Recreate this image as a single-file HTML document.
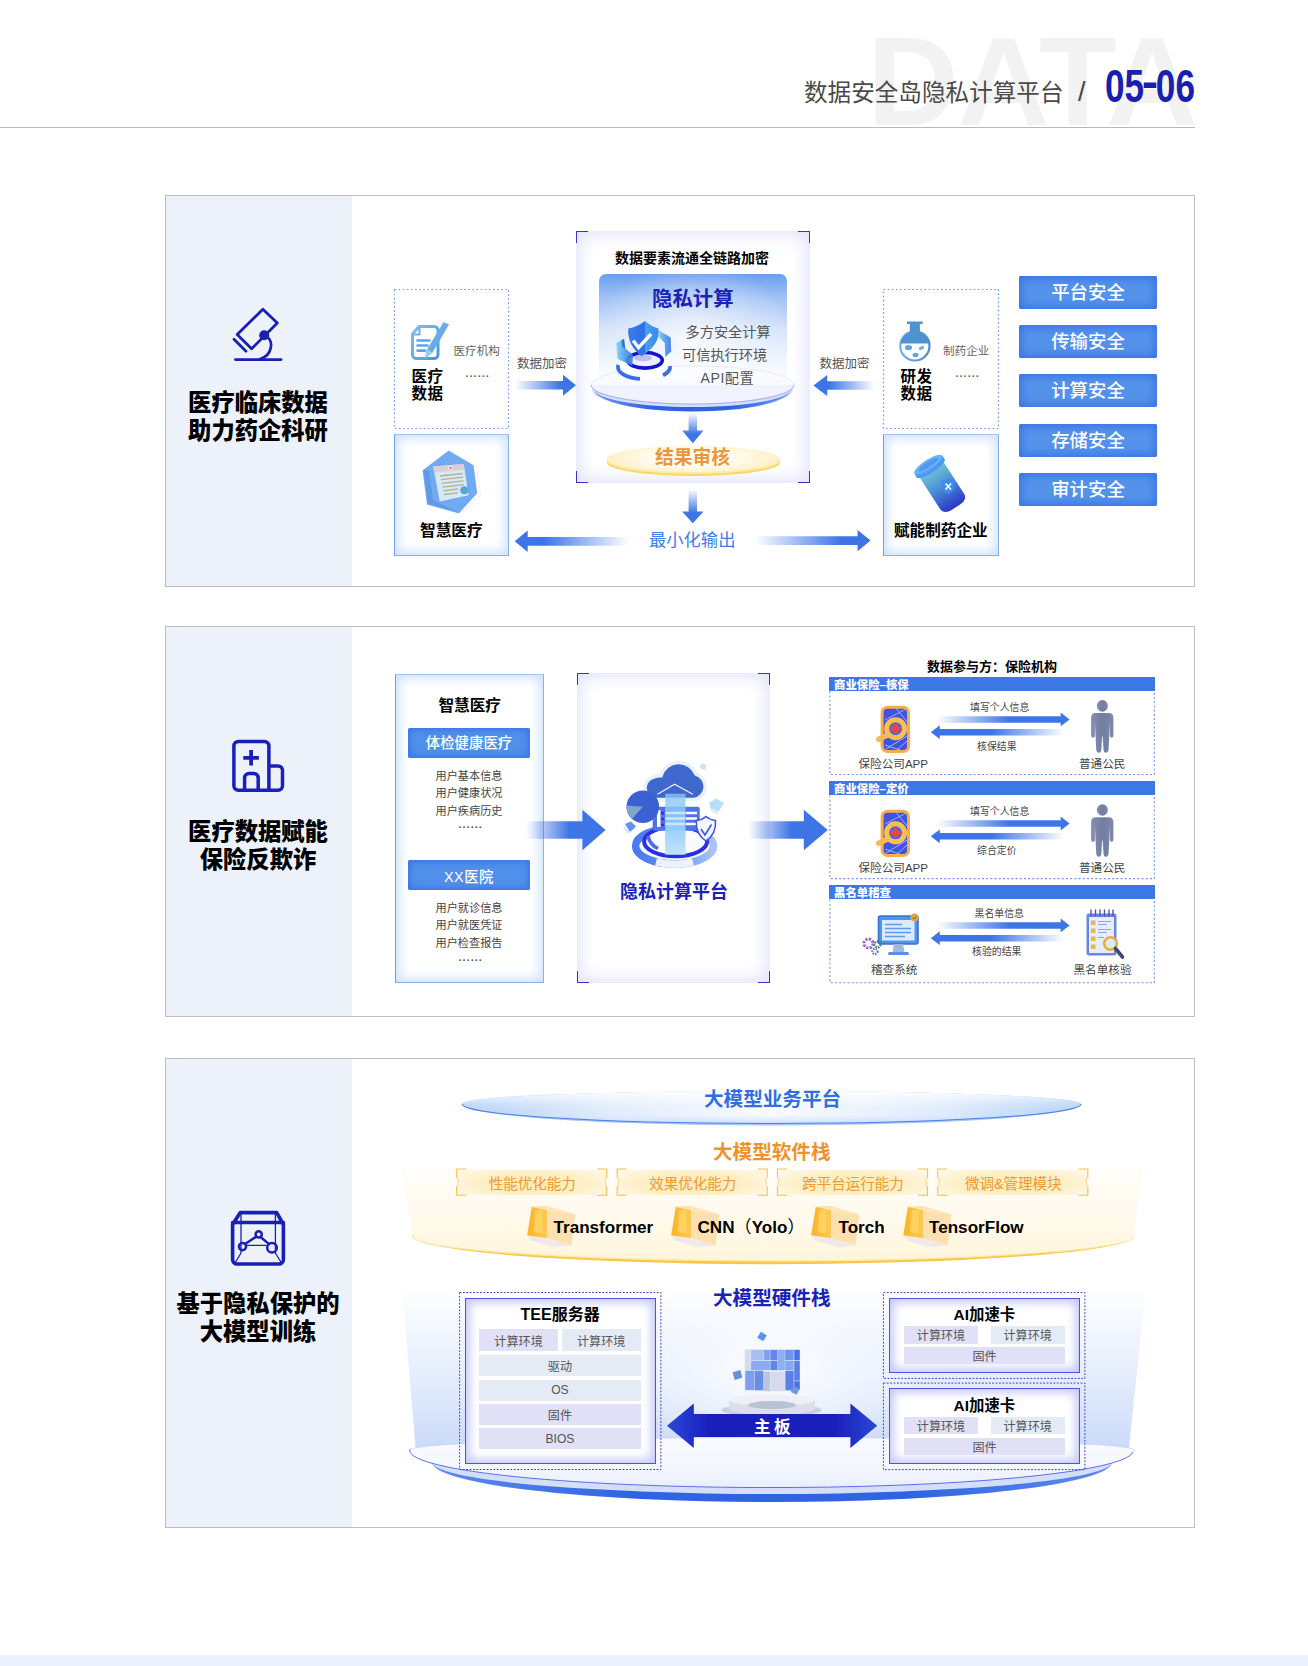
<!DOCTYPE html>
<html lang="zh-CN">
<head>
<meta charset="utf-8">
<title>数据安全岛隐私计算平台</title>
<style>
*{margin:0;padding:0;box-sizing:border-box}
html,body{width:1308px;height:1666px;background:#fff;overflow:hidden}
body{font-family:"Liberation Sans","Noto Sans CJK SC",sans-serif;color:#000;position:relative}
.a{position:absolute}
.t{position:absolute;white-space:nowrap;line-height:1}
.b{font-weight:700}
.panel{position:absolute;left:165px;width:1030px;border:1px solid #bebebe;background:#fff}
.side{position:absolute;left:0;top:0;bottom:0;width:186px;background:#edf2fa}
.stitle{position:absolute;left:0;width:186px;text-align:center;font-size:23.3px;font-weight:900;line-height:28.3px;color:#000;white-space:nowrap}
svg{position:absolute;overflow:visible}
.dot{position:absolute}
.glow{position:absolute;border:1px solid #7aa8f0;border-color:#a2c4f6 #86b0f3 #86b0f3 #6f9df0;background:#fff;box-shadow:inset 0 0 11px 3px #c9e1fc}
.btn{position:absolute;left:1019px;width:138px;height:33px;background:#5492ea;box-shadow:inset 0 0 9px 2px #3870e6;color:#fff;font-size:18.4px;font-weight:500;text-align:center;line-height:34.5px;border-radius:2px}
.bar{position:absolute;width:122px;height:29.5px;border-radius:2px;background:#5090ea;box-shadow:inset 0 0 6px 2px #3a72e6;color:#fff;font-size:14.4px;font-weight:500;text-align:center;line-height:31px;white-space:nowrap}
.lst{position:absolute;width:122px;text-align:center;font-size:11.15px;color:#444;line-height:17.5px;white-space:nowrap}
.hd{position:absolute;left:829.4px;width:325.4px;height:14.6px;background:#3d78e6;color:#fff;font-size:11.4px;font-weight:900;line-height:16px;padding-left:4.6px;white-space:nowrap}
.s9{font-size:9.9px;color:#444}
.s11{font-size:11.6px;color:#444}
.tag{position:absolute;top:1169.5px;width:148px;margin-left:1.5px;height:25.5px;background:radial-gradient(ellipse 62% 80% at 50% 55%,#fdebb6 0%,#fdefc4 55%,#fff8e8 100%);line-height:29.5px;text-align:center;font-size:14.5px;padding-left:1px;font-weight:400;color:#ee9a30;white-space:nowrap}
.fw{font-size:17.1px;color:#000}
.ibox{position:absolute;background:#fff;border:1.8px solid #4a55dc;box-shadow:inset 0 0 10px 3.5px #c3c6f7}
.cell{position:absolute;font-size:12.1px;color:#555;text-align:center;display:flex;align-items:center;justify-content:center;white-space:nowrap}
.c1{background:#e0e0f6}.c2{background:#e4ebf5}
</style>
</head>
<body>
<!-- HEADER -->
<div class="t b" style="left:867px;top:18px;font-size:127px;color:#f2f2f2;letter-spacing:-1px;height:109px;overflow:hidden;line-height:127px">DATA</div>
<div class="a" style="left:0;top:127px;width:1195px;height:1px;background:#b9b9b9"></div>
<div class="t" style="left:804px;top:82px;font-size:23.6px;color:#4a4a4a;font-weight:400">数据安全岛隐私计算平台</div>
<div class="t" style="left:1078px;top:79px;font-size:27px;color:#444;font-weight:400">/</div>
<div class="t b" id="pgno" style="left:1105px;top:63px;font-size:46px;color:#1a1fae;transform:scaleX(.765);transform-origin:0 0">05<span style="position:relative;top:-5.500px;display:inline-block;transform:scaleX(1.4)">-</span>06</div>

<!-- PANEL FRAMES -->
<div class="panel" id="p1" style="top:195px;height:392px"><div class="side"></div></div>
<div class="panel" id="p2" style="top:626px;height:391px"><div class="side"></div></div>
<div class="panel" id="p3" style="top:1058px;height:470px"><div class="side"></div></div>

<!-- footer strip -->
<div class="a" style="left:0;top:1654.6px;width:1308px;height:12px;background:#eaf0fc"></div>

<!--P1-->
<svg style="left:0;top:0" width="1308" height="1666" viewBox="0 0 1308 1666">
<defs>
<linearGradient id="gR" x1="0" x2="1" y1="0" y2="0"><stop offset="0" stop-color="#3d74e6" stop-opacity="0"/><stop offset=".75" stop-color="#3d74e6"/><stop offset="1" stop-color="#3d74e6"/></linearGradient>
<linearGradient id="gL" x1="1" x2="0" y1="0" y2="0"><stop offset="0" stop-color="#3d74e6" stop-opacity="0"/><stop offset=".75" stop-color="#3d74e6"/><stop offset="1" stop-color="#3d74e6"/></linearGradient>
<linearGradient id="gD" x1="0" x2="0" y1="0" y2="1"><stop offset="0" stop-color="#3d74e6" stop-opacity="0"/><stop offset=".7" stop-color="#3d74e6"/><stop offset="1" stop-color="#3d74e6"/></linearGradient>
</defs>
<!-- microscope icon -->
<g fill="none" stroke="#1a1fb5" stroke-width="2.8" stroke-linecap="round" stroke-linejoin="round">
<path d="M262.9 309.3 L277.3 323 L251.6 348.8 L237.2 334.4 Z"/>
<path d="M234 339.2 L246 351.2"/>
<path d="M235.5 359.6 H281"/>
<path d="M267 337 C274 341 272 356 260 359"/>
</g>
<circle cx="264.2" cy="335.2" r="5" fill="#1a1fb5"/>
</svg>

<div class="glow" style="left:394px;top:434px;width:115px;height:122px"></div>
<div class="glow" style="left:883px;top:434px;width:116px;height:122px"></div>
<svg style="left:0;top:0" width="1308" height="1666" viewBox="0 0 1308 1666">
<defs>
<linearGradient id="docg" x1="0" x2="1" y1="0" y2="1"><stop offset="0" stop-color="#7fc0f0"/><stop offset="1" stop-color="#4c96dc"/></linearGradient>
<linearGradient id="btl" x1="0" x2="0" y1="0" y2="1"><stop offset="0" stop-color="#6fc4d2"/><stop offset=".45" stop-color="#4a8fd6"/><stop offset="1" stop-color="#2a36c4"/></linearGradient>
<linearGradient id="flk" x1="0" x2="1" y1="0" y2="0"><stop offset="0" stop-color="#6fb2ea"/><stop offset="1" stop-color="#4a8acc"/></linearGradient>
</defs>
<g fill="none" stroke="#6f98ea" stroke-width="1.2" stroke-dasharray="1.6 2.5">
<rect x="394.5" y="289.5" width="114" height="139"/>
<rect x="883.5" y="289.5" width="115" height="139"/>
</g>
<!-- doc + pen -->
<g>
<path d="M419 326.500 H434 a4 4 0 0 1 4 4 V354.500 a4 4 0 0 1 -4 4 H416.500 a4 4 0 0 1 -4 -4 V334 Z" fill="#fff" stroke="url(#docg)" stroke-width="3"/>
<path d="M412.500 334.500 H419.500 V327" fill="none" stroke="#6ab2ec" stroke-width="2"/>
<path d="M417.500 340.500 H429.500 M417.500 345.500 H427.500 M417.500 350.600 H425" stroke="#5aa5e6" stroke-width="2.600" stroke-linecap="round"/>
<path d="M443.500 322 L449 324.500 L432.500 352.500 L424.800 358.800 L427 349.500 Z" fill="url(#docg)"/>
<path d="M427 349.500 L432.500 352.500 L424.800 358.800 Z" fill="#8fd0f8"/>
</g>
<!-- hexagon doc -->
<g>
<path d="M451.100 451.200 L476.800 467.700 L480.500 495.200 L462.800 512.300 L448 500 Z" fill="#fff" stroke="#e8eefa" stroke-width="1"/>
<path d="M448.700 451.800 L472.600 465.900 L476.200 492.800 L458.500 512.300 L427.900 503.800 L423.600 470.700 Z" fill="#70aaf1" stroke="#70aaf1" stroke-width="2" stroke-linejoin="round"/>
<path d="M423.600 470.700 L427.900 503.800 L458.500 512.300 L433 500 L429 470 Z" fill="#5b92e6" opacity=".7"/>
<path d="M433.100 466.500 L463.700 464 L468.600 495.200 L439.800 501.600 Z" fill="#d6e9f9"/>
<path d="M433.100 466.500 L463.700 464 L464.600 469.800 L434.300 472.600 Z" fill="#dccdd2"/>
<circle cx="450.500" cy="467.800" r="2.300" fill="#f4f0f4"/><circle cx="450.500" cy="467.800" r="1.100" fill="#e45a6a"/>
<path d="M440 476 L462.500 473.500 M441 479.700 L463 477.200 M441.700 483.400 L463.500 480.900 M442.500 487.100 L464 484.600 M443.300 490.800 L458 489 M444 494.500 L458 492.800" stroke="#b7b08c" stroke-width="1.300"/>
<circle cx="464.300" cy="490.300" r="4" fill="#5b9ff0"/>
<path d="M462.300 490.300 L463.800 491.800 L466.500 488.800" stroke="#4ac070" stroke-width="1.100" fill="none"/>
</g>
<!-- flask -->
<g>
<circle cx="914.900" cy="345.900" r="14.600" fill="#fff" stroke="url(#flk)" stroke-width="2.200"/>
<path d="M900.600 343.500 A14.600 14.600 0 0 1 909.800 332.300 V324 H907 V321.400 H922.700 V324 H919.900 V332.300 A14.600 14.600 0 0 1 929.200 343.500 Z" fill="#4e92d2"/>
<ellipse cx="908.500" cy="347.500" rx="3.600" ry="2.600" fill="#5fa4e4"/><ellipse cx="921.500" cy="348" rx="2.800" ry="1.700" fill="#6aaee8" transform="rotate(-20 921.500 348)"/><ellipse cx="915.500" cy="355" rx="3" ry="2.200" fill="#5fa4e4"/>
</g>
<!-- bottle -->
<g transform="translate(4.5 2.5) rotate(-33 938 484) translate(938 484) scale(.95) translate(-938 -484)">
<path d="M923 462 H953 V503 a9 7 0 0 1 -9 7 H932 a9 7 0 0 1 -9 -7 Z" fill="url(#btl)"/>
<ellipse cx="938" cy="461" rx="17.500" ry="5" fill="#4f9af0"/>
<rect x="920.500" y="456.500" width="35" height="5" fill="#4f9af0"/>
<ellipse cx="938" cy="456.500" rx="17.500" ry="5" fill="#6ab4f6"/>
<ellipse cx="938" cy="456.500" rx="12.500" ry="3" fill="#4f9af0"/>
</g>
<path d="M948.300 478.500 L955 481 Q955.500 490.500 948.300 494.500 Q941 490.500 941.600 481 Z" fill="#3a8cf0"/>
<path d="M945.500 483.500 L951 489.500 M951 483.500 L945.500 489.500" stroke="#fff" stroke-width="1.800"/>
</svg>
<!-- left boxes -->
<div class="t b" style="left:411.500px;top:368px;font-size:15.500px;line-height:17px;letter-spacing:.6px">医疗<br>数据</div>
<div class="t" style="left:453.500px;top:345px;font-size:11.600px;color:#666">医疗机构</div>
<div class="t" style="left:465.500px;top:368px;font-size:11px;color:#666;letter-spacing:1px;font-weight:700">......</div>
<div class="t" style="left:517px;top:358px;font-size:12.500px;color:#555">数据加密</div>
<div class="t b" style="left:420px;top:523px;font-size:15.700px">智慧医疗</div>
<!-- centre box -->
<div class="a" style="left:576px;top:231px;width:234px;height:252px;background:#fff;box-shadow:inset 0 0 18px 3px #dfe0fb"></div>
<div class="a" style="left:576px;top:231px;width:12px;height:12px;border-left:1.3px solid #3535c6;border-top:1.3px solid #3535c6"></div>
<div class="a" style="left:798px;top:231px;width:12px;height:12px;border-right:1.3px solid #3535c6;border-top:1.3px solid #3535c6"></div>
<div class="a" style="left:576px;top:471px;width:12px;height:12px;border-left:1.3px solid #3535c6;border-bottom:1.3px solid #3535c6"></div>
<div class="a" style="left:798px;top:471px;width:12px;height:12px;border-right:1.3px solid #3535c6;border-bottom:1.3px solid #3535c6"></div>
<div class="t b" style="left:615px;top:250.5px;font-size:14px">数据要素流通全链路加密</div>
<div class="a" style="left:598.5px;top:274px;width:188.5px;height:112px;border-radius:7px 7px 0 0;background:radial-gradient(ellipse 55% 70% at 50% 60%,rgba(255,255,255,.75) 0%,rgba(255,255,255,0) 100%),linear-gradient(180deg,#6a9fee 0%,#a3c3f5 22%,#d3e3fa 50%,#f1f6fe 80%,#ffffff 100%)"></div>
<svg style="left:0;top:0" width="1308" height="1666" viewBox="0 0 1308 1666">
<defs>
<linearGradient id="rim1" x1="0" x2="0" y1="0" y2="1"><stop offset="0" stop-color="#dfe6fb"/><stop offset=".6" stop-color="#c3d2f8"/><stop offset=".8" stop-color="#6b93ee"/><stop offset="1" stop-color="#2a5fe0"/></linearGradient>
<linearGradient id="brimh1" x1="0" x2="1" y1="0" y2="0"><stop offset="0" stop-color="#6f98f0"/><stop offset=".3" stop-color="#2f63e2"/><stop offset=".7" stop-color="#2f63e2"/><stop offset="1" stop-color="#6f98f0"/></linearGradient>
<linearGradient id="top1" x1="0" x2="0" y1="0" y2="1"><stop offset="0" stop-color="#ffffff" stop-opacity=".0"/><stop offset=".4" stop-color="#f8f9fe" stop-opacity=".75"/><stop offset="1" stop-color="#f0f2fd"/></linearGradient>
<linearGradient id="sh1" x1="0" x2="1" y1="0" y2="0"><stop offset="0" stop-color="#3a7bea"/><stop offset=".55" stop-color="#2f6fe8"/><stop offset=".56" stop-color="#4da0f2"/><stop offset="1" stop-color="#3b86ee"/></linearGradient>
<linearGradient id="gl1" x1="0" x2="1" y1="0" y2="0"><stop offset="0" stop-color="#7fd6f8"/><stop offset=".5" stop-color="#4a9bee"/><stop offset="1" stop-color="#3a78e4"/></linearGradient>
</defs>
<path d="M592 389 A100.500 22.500 0 0 0 793 389 L793 385 H592 Z" fill="#d5dffa"/>
<path d="M594 389 A98.500 22.500 0 0 0 791 389 A98.500 18 0 0 1 594 389 Z" fill="url(#brimh1)"/>
<ellipse cx="692.500" cy="385" rx="101.500" ry="19" fill="url(#top1)"/>
<path d="M591 385 A101.500 19 0 0 0 794 385" fill="none" stroke="#8d9cf0" stroke-width=".8"/>
<path d="M591 385 A101.500 19 0 0 1 794 385" fill="none" stroke="#d9defa" stroke-width=".6"/>
<!-- shield icon -->
<ellipse cx="644.100" cy="367" rx="26" ry="12" fill="#fff"/>
<path d="M618.300 365 A26 12 0 0 0 640 378.900" fill="none" stroke="#3d6be8" stroke-width="3.800"/>
<path d="M663 375.200 A26 12 0 0 0 670 366" fill="none" stroke="#3d6be8" stroke-width="3.800"/>
<ellipse cx="645" cy="360.300" rx="17.300" ry="7.800" fill="#eeeefc" stroke="#1414cf" stroke-width="3.600"/>
<ellipse cx="643" cy="358" rx="9" ry="3.200" fill="#9a96e8" opacity=".55"/>
<path d="M616.200 343.200 L624 338.600 L625.300 348.600 L633.100 355 L632.200 366 L617.500 358.700 Z" fill="url(#gl1)" opacity=".9"/>
<path d="M621.500 340.500 L624 339 L625.300 348.600 L622.500 347 Z" fill="#2a4a9a" opacity=".6"/>
<path d="M658.400 330.300 L670.700 337.600 L671.200 351.400 L665.200 356.900 L664.800 343.100 L658.400 336.700 Z" fill="url(#gl1)" opacity=".9"/>
<path d="M645 321.100 Q651 326.500 658.300 328.500 Q661 344 641.400 356.200 Q627 345 628.300 328.600 Q637.500 327 645 321.100 Z" fill="url(#sh1)"/>
<path d="M633.100 340.400 L638.600 347.700 L651 334" fill="none" stroke="#fff" stroke-width="3.400" stroke-linejoin="miter"/>
</svg>
<div class="t b" style="left:652px;top:288.500px;font-size:20.400px;color:#1a22b8">隐私计算</div>
<div class="t" style="left:685.500px;top:324.500px;font-size:14.200px;color:#555">多方安全计算</div>
<div class="t" style="left:682px;top:347.500px;font-size:14.200px;color:#555">可信执行环境</div>
<div class="t" style="left:700.500px;top:370.500px;font-size:14.200px;color:#555;letter-spacing:.5px">API配置</div>
<!-- result ellipse -->
<div class="a" style="left:606.500px;top:448.500px;width:173px;height:27px;border-radius:50%;background:#fbd768"></div>
<div class="a" style="left:606.500px;top:447px;width:173px;height:27px;border-radius:50%;background:#fdeaa8"></div>
<div class="a" style="left:606.500px;top:445.500px;width:173px;height:26.500px;border-radius:50%;background:radial-gradient(ellipse 55% 70% at 50% 45%,#ffffff 0%,#fffaea 50%,#fdefbf 100%)"></div>
<div class="t b" style="left:655px;top:448.800px;font-size:18.800px;color:#ea963a">结果审核</div>
<div class="t" style="left:649px;top:531.800px;font-size:17.300px;color:#3f7de8">最小化输出</div>
<!-- right boxes -->
<div class="t b" style="left:900.500px;top:368px;font-size:15.500px;line-height:17px;letter-spacing:.6px">研发<br>数据</div>
<div class="t" style="left:943px;top:345px;font-size:11.600px;color:#666">制药企业</div>
<div class="t" style="left:955.500px;top:368px;font-size:11px;color:#666;letter-spacing:1px;font-weight:700">......</div>
<div class="t" style="left:819.500px;top:357.500px;font-size:12.500px;color:#555">数据加密</div>
<div class="t b" style="left:894px;top:523px;font-size:15.600px">赋能制药企业</div>
<!-- buttons -->
<div class="btn" style="top:276px">平台安全</div>
<div class="btn" style="top:325px">传输安全</div>
<div class="btn" style="top:374px">计算安全</div>
<div class="btn" style="top:423.5px">存储安全</div>
<div class="btn" style="top:472.5px">审计安全</div>
<svg style="left:0;top:0" width="1308" height="1666" viewBox="0 0 1308 1666">
<polygon fill="url(#gR)" points="515,380.95 563,380.95 563,374.7 576,385.2 563,395.7 563,389.45 515,389.45"/>
<polygon fill="url(#gL)" points="874.5,381.25 827.2,381.25 827.2,375.0 813.4,385.5 827.2,396.0 827.2,389.75 874.5,389.75"/>
<polygon fill="url(#gL)" points="629,536.9 527.7,536.9 527.7,530.5999999999999 514.7,541.3 527.7,552.0 527.7,545.6999999999999 629,545.6999999999999"/>
<polygon fill="url(#gR)" points="755,536.2 857.6,536.2 857.6,529.9 870.6,540.6 857.6,551.3000000000001 857.6,545.0 755,545.0"/>
<polygon fill="url(#gD)" points="688.5999999999999,412.8 688.5999999999999,430.4 682.0999999999999,430.4 692.8,443.2 703.5,430.4 697.0,430.4 697.0,412.8"/>
<polygon fill="url(#gD)" points="688.5999999999999,489.4 688.5999999999999,511.5 682.0999999999999,511.5 692.8,523.2 703.5,511.5 697.0,511.5 697.0,489.4"/>
</svg>
<div class="stitle" style="left:165px;top:388.5px">医疗临床数据<br>助力药企科研</div>
<!--P2-->
<svg style="left:0;top:0" width="1308" height="1666" viewBox="0 0 1308 1666">
<g fill="none" stroke="#1a1fb5" stroke-width="3.5" stroke-linejoin="round" stroke-linecap="butt">
<path d="M238.400 790.300 a4.500 4.500 0 0 1 -4.500 -4.500 V746 a4.500 4.500 0 0 1 4.500 -4.500 H264.400 a4.500 4.500 0 0 1 4.500 4.500 V790.300 M268.900 765.900 H278 a4.500 4.500 0 0 1 4.500 4.500 V785.800 a4.500 4.500 0 0 1 -4.500 4.500 H238.400"/>
<path d="M244.600 790 V778 a4.500 4.500 0 0 1 4.500 -4.500 H253.700 a4.500 4.500 0 0 1 4.500 4.500 V790"/>
<path stroke-width="3.8" d="M243.300 757.800 H258.900 M251.100 750 V765.600"/>
</g>
</svg>

<div class="glow" style="left:395px;top:673.500px;width:149px;height:309.500px;box-shadow:inset 0 0 12px 3px #c9e1fc"></div>
<div class="t b" style="left:438.500px;top:698px;font-size:15.600px">智慧医疗</div>
<div class="bar" style="left:408px;top:728px">体检健康医疗</div>
<div class="lst" style="left:408px;top:767.500px">用户基本信息<br>用户健康状况<br>用户疾病历史</div>
<div class="t" style="left:458.500px;top:818.500px;font-size:11px;color:#555;letter-spacing:1px;font-weight:700">......</div>
<div class="bar" style="left:408px;top:860px;letter-spacing:.5px;line-height:34px">XX医院</div>
<div class="lst" style="left:408px;top:899.500px">用户就诊信息<br>用户就医凭证<br>用户检查报告</div>
<div class="t" style="left:458.500px;top:952px;font-size:11px;color:#555;letter-spacing:1px;font-weight:700">......</div>
<div class="a" style="left:577px;top:673px;width:193px;height:310px;background:#fff;box-shadow:inset 0 0 18px 3px #dfe0fb"></div>
<div class="a" style="left:577px;top:673px;width:12px;height:12px;border-left:1.3px solid #3535c6;border-top:1.3px solid #3535c6"></div>
<div class="a" style="left:758px;top:673px;width:12px;height:12px;border-right:1.3px solid #3535c6;border-top:1.3px solid #3535c6"></div>
<div class="a" style="left:577px;top:971px;width:12px;height:12px;border-left:1.3px solid #3535c6;border-bottom:1.3px solid #3535c6"></div>
<div class="a" style="left:758px;top:971px;width:12px;height:12px;border-right:1.3px solid #3535c6;border-bottom:1.3px solid #3535c6"></div>
<svg style="left:0;top:0" width="1308" height="1666" viewBox="0 0 1308 1666">
<defs>
<linearGradient id="cring" x1="0" x2="1" y1="0" y2="0"><stop offset="0" stop-color="#4a7af0"/><stop offset=".45" stop-color="#5f8cf2"/><stop offset="1" stop-color="#a9c4f7"/></linearGradient>
<linearGradient id="carr" x1="0" x2="0" y1="0" y2="1"><stop offset="0" stop-color="#8cc8f6" stop-opacity=".75"/><stop offset=".5" stop-color="#8fccf8" stop-opacity=".95"/><stop offset="1" stop-color="#bfe2fb" stop-opacity=".95"/></linearGradient>
</defs>
<ellipse cx="674.600" cy="846" rx="39" ry="18" fill="#f4f6fe" stroke="url(#cring)" stroke-width="7.500"/>
<path d="M693 861.900 A39 18 0 0 1 656 861.900" stroke="#eef2fd" stroke-width="7.600" fill="none"/>
<ellipse cx="675.600" cy="841.500" rx="31.500" ry="14.800" fill="#fbfbff" stroke="#2b2fe2" stroke-width="4"/>
<path d="M648 836 Q650 845 658 848.500" stroke="#4a6cf0" stroke-width="3.500" fill="none"/>
<!-- server -->
<rect x="652.700" y="806.700" width="47" height="24" rx="2" fill="#4d72ea"/>
<rect x="657" y="810" width="3.500" height="17" fill="#fff"/>
<path d="M686 813 H697 M686 818.500 H697 M686 824 H697" stroke="#fff" stroke-width="2.600"/>
<circle cx="662.500" cy="813.200" r="1.600" fill="#3a2fe0"/><circle cx="662.500" cy="819" r="1.600" fill="#3a2fe0"/><circle cx="662.500" cy="824.800" r="1.600" fill="#3a2fe0"/>
<!-- cloud -->
<path d="M656 799.500 a11.500 11.500 0 0 1 -1.500 -22.800 a14 14 0 0 1 6.500 -1 a18.500 18.500 0 0 1 35 -1.500 a13 13 0 0 1 -2 25.300 Z" fill="#3f68cc" stroke="#eaf1fb" stroke-width="3.500"/>
<!-- pie -->
<circle cx="642.800" cy="806.700" r="16.300" fill="#3c60d4"/>
<path d="M642.800 806.700 L626.600 805.500 A16.300 16.300 0 0 0 632 818.800 Z" fill="#7da6cc"/>
<!-- arrow -->
<rect x="665.200" y="793.700" width="20.300" height="61" fill="url(#carr)"/>
<path d="M665.200 813 h20.300 M665.200 818.500 h20.300 M665.200 824 h20.300" stroke="#d6ecfc" stroke-width="2.400" opacity=".85"/>
<path d="M657.500 794.300 L674.600 784.300 L692.800 794.300" fill="none" stroke="#e8f2fc" stroke-width="1.300"/>
<!-- shield -->
<path d="M705.900 816.500 Q710 820 715.500 820.500 Q716.500 834 705.900 841 Q695.500 834 696.300 820.500 Q702 820 705.900 816.500 Z" fill="#f4f7fe" stroke="#3d55e6" stroke-width="1.500"/>
<path d="M701 829 L705 835 L711.500 824.500" fill="none" stroke="#3d55e6" stroke-width="1.600"/>
<!-- cubes -->
<path d="M709 803 L716 798.500 L724 803 L718.500 812 L710.500 808.500 Z" fill="#b5e1f6"/><path d="M710.500 808.500 L718.500 812 L717.500 815 L711 811.500 Z" fill="#e3eef8"/>
<rect x="700.500" y="764" width="5.500" height="5" fill="#c6e4f6" transform="rotate(25 703 766.500)"/>
<path d="M625 824 L631 821.500 L636 826.500 L630 832 Z" fill="#5b93ee"/><path d="M624 826 L630 832 L629 834.500 L623.500 829 Z" fill="#d9e6f8"/>
</svg>
<div class="t b" style="left:620px;top:883px;font-size:18px;color:#1a22b8">隐私计算平台</div>
<div class="t b" style="left:927px;top:659.800px;font-size:13px">数据参与方：保险机构</div>
<div class="hd" style="top:676.600px">商业保险–核保</div>
<div class="hd" style="top:780.700px">商业保险–定价</div>
<div class="hd" style="top:884.800px">黑名单稽查</div>
<div class="t s9" style="left:970px;top:702.500px">填写个人信息</div>
<div class="t s9" style="left:977px;top:741.500px">核保结果</div>
<div class="t s11" style="left:858.500px;top:757.800px">保险公司APP</div>
<div class="t s11" style="left:1079px;top:757.800px">普通公民</div>
<div class="t s9" style="left:970px;top:806.600px">填写个人信息</div>
<div class="t s9" style="left:977px;top:845.600px">综合定价</div>
<div class="t s11" style="left:858.500px;top:861.900px">保险公司APP</div>
<div class="t s11" style="left:1079px;top:861.900px">普通公民</div>
<div class="t s9" style="left:974.500px;top:909px">黑名单信息</div>
<div class="t s9" style="left:972px;top:947px">核验的结果</div>
<div class="t s11" style="left:871px;top:964.300px">稽查系统</div>
<div class="t s11" style="left:1073.500px;top:964.300px">黑名单核验</div>
<svg style="left:0;top:0" width="1308" height="1666" viewBox="0 0 1308 1666">
<defs><linearGradient id="gR2" x1="0" x2="1" y1="0" y2="0"><stop offset="0" stop-color="#3d74e6" stop-opacity="0"/><stop offset=".55" stop-color="#3d74e6"/><stop offset="1" stop-color="#3d74e6"/></linearGradient><linearGradient id="gL2" x1="1" x2="0" y1="0" y2="0"><stop offset="0" stop-color="#3d74e6" stop-opacity="0"/><stop offset=".55" stop-color="#3d74e6"/><stop offset="1" stop-color="#3d74e6"/></linearGradient><linearGradient id="pers" x1="0" x2="1" y1="0" y2="0"><stop offset="0" stop-color="#8690b2"/><stop offset=".5" stop-color="#727da2"/><stop offset="1" stop-color="#7f89ac"/></linearGradient></defs>
<polygon fill="url(#gR2)" points="526,821.2 582.4,821.2 582.4,809.8 605.6,830 582.4,850.2 582.4,838.8 526,838.8"/>
<polygon fill="url(#gR2)" points="748,821.2 803.8,821.2 803.8,809.8 827.8,830 803.8,850.2 803.8,838.8 748,838.8"/>
<g fill="none" stroke="#6f98ea" stroke-width="1.1" stroke-dasharray="2.1 2.1"><path d="M829.9 691.3 V774.5 H1154.3 V691.3"/><path d="M829.9 795.4 V878.6 H1154.3 V795.4"/><path d="M829.9 899.5 V982.7 H1154.3 V899.5"/></g>
<polygon fill="url(#gR2)" points="936.4,716.15 1060.7,716.15 1060.7,712.5 1069.6,719.4 1060.7,726.3 1060.7,722.65 936.4,722.65"/>
<polygon fill="url(#gL2)" points="1064.5,728.95 939.8,728.95 939.8,725.3000000000001 930.8,732.2 939.8,739.1 939.8,735.45 1064.5,735.45"/>
<polygon fill="url(#gR2)" points="936.4,820.25 1060.7,820.25 1060.7,816.6 1069.6,823.5 1060.7,830.4 1060.7,826.75 936.4,826.75"/>
<polygon fill="url(#gL2)" points="1064.5,833.0500000000001 939.8,833.0500000000001 939.8,829.4000000000001 930.8,836.3000000000001 939.8,843.2 939.8,839.5500000000001 1064.5,839.5500000000001"/>
<polygon fill="url(#gR2)" points="936.4,922.15 1060.7,922.15 1060.7,918.5 1069.6,925.4 1060.7,932.3 1060.7,928.65 936.4,928.65"/>
<polygon fill="url(#gL2)" points="1064.5,934.95 939.8,934.95 939.8,931.3000000000001 930.8,938.2 939.8,945.1 939.8,941.45 1064.5,941.45"/>
<g transform="translate(0 0.0)" fill="url(#pers)"><ellipse cx="1102.400" cy="705.900" rx="5.500" ry="5.800"/><path d="M1095.600 713.100 H1108.900 Q1113.400 713.100 1113.400 718.300 V735.800 Q1113.200 737.700 1111.700 737.700 Q1110.100 737.700 1109.900 735.800 V722 L1108.600 749.500 Q1108 752.800 1105.900 752.800 Q1103.800 752.800 1103.500 749.500 L1102.700 736.500 H1102.100 L1101.300 749.500 Q1101 752.800 1098.900 752.800 Q1096.800 752.800 1096.200 749.500 L1094.900 722 V735.800 Q1094.700 737.700 1093.100 737.700 Q1091.500 737.700 1091.100 735.800 V718.300 Q1091.100 713.100 1095.600 713.100 Z"/></g>
<g transform="translate(0 104.1)" fill="url(#pers)"><ellipse cx="1102.400" cy="705.900" rx="5.500" ry="5.800"/><path d="M1095.600 713.100 H1108.900 Q1113.400 713.100 1113.400 718.300 V735.800 Q1113.200 737.700 1111.700 737.700 Q1110.100 737.700 1109.900 735.800 V722 L1108.600 749.500 Q1108 752.800 1105.900 752.800 Q1103.800 752.800 1103.500 749.500 L1102.700 736.500 H1102.100 L1101.300 749.500 Q1101 752.800 1098.900 752.800 Q1096.800 752.800 1096.200 749.500 L1094.900 722 V735.800 Q1094.700 737.700 1093.100 737.700 Q1091.500 737.700 1091.100 735.800 V718.300 Q1091.100 713.100 1095.600 713.100 Z"/></g>
<g transform="translate(0 0.0)"><rect x="882.100" y="707.200" width="26.400" height="44.300" rx="5.500" fill="#3f52e0" stroke="#f7ad4c" stroke-width="3"/>
<path d="M885 720 L906 709 M885 745 L900 750 M896 708 L907 722 M886 749 L907 736 M897 750 L907 741" stroke="#aebcf2" stroke-width=".9"/>
<path d="M887.500 735 L878.800 739.200" stroke="#f9b850" stroke-width="5.500" stroke-linecap="round"/>
<circle cx="895.600" cy="728.700" r="9" fill="#4766e6" stroke="#fbc050" stroke-width="5"/>
<path d="M895.600 723.700 V733.700 M890.600 728.700 H900.600" stroke="#e8463f" stroke-width="4.200"/></g>
<g transform="translate(0 104.1)"><rect x="882.100" y="707.200" width="26.400" height="44.300" rx="5.500" fill="#3f52e0" stroke="#f7ad4c" stroke-width="3"/>
<path d="M885 720 L906 709 M885 745 L900 750 M896 708 L907 722 M886 749 L907 736 M897 750 L907 741" stroke="#aebcf2" stroke-width=".9"/>
<path d="M887.500 735 L878.800 739.200" stroke="#f9b850" stroke-width="5.500" stroke-linecap="round"/>
<circle cx="895.600" cy="728.700" r="9" fill="#4766e6" stroke="#fbc050" stroke-width="5"/>
<path d="M895.600 723.700 V733.700 M890.600 728.700 H900.600" stroke="#e8463f" stroke-width="4.200"/></g>
<g><rect x="878.500" y="916" width="39.500" height="28" rx="2" fill="#4f94ee" stroke="#3a6fd8" stroke-width="1.600"/>
<rect x="882" y="920" width="32.500" height="20.500" fill="#dbeafc"/>
<path d="M885 924.500 H902 M885 928.500 H911 M885 932.500 H911 M885 936.500 H905" stroke="#5f9af0" stroke-width="1.500"/>
<path d="M894 944 H903 L904.500 952 H892.500 Z" fill="#9fb8e0"/><rect x="888" y="952" width="21" height="3" rx="1.500" fill="#5c8ee6"/>
<circle cx="914.500" cy="917.500" r="4" fill="#f2a03c"/><path d="M912.600 917.500 l1.500 1.500 l2.600 -2.800" stroke="#3aa860" stroke-width="1.200" fill="none"/>
<circle cx="868.500" cy="943.500" r="4.500" fill="none" stroke="#9a62d8" stroke-width="3" stroke-dasharray="2.200 1.300"/>
<circle cx="877.500" cy="944.500" r="3" fill="none" stroke="#3c8a56" stroke-width="2.400" stroke-dasharray="1.600 1"/>
<circle cx="875" cy="951.500" r="2.600" fill="none" stroke="#6a72d8" stroke-width="2.200" stroke-dasharray="1.500 1"/></g>
<g><rect x="1086.500" y="913.500" width="30" height="42" rx="2.500" fill="#6b86e0"/>
<rect x="1089" y="917" width="25" height="36" fill="#e4eefc"/>
<path d="M1091 910 v6 M1095.500 910 v6 M1100 910 v6 M1104.500 910 v6 M1109 910 v6 M1113 910 v6" stroke="#4a5aa8" stroke-width="1.400" stroke-linecap="round"/>
<rect x="1091" y="920.500" width="4.500" height="4.500" fill="#f2b63c"/><rect x="1091" y="928.500" width="4.500" height="4.500" fill="#f2b63c"/><rect x="1091" y="936.500" width="4.500" height="4.500" fill="#f2b63c"/><rect x="1091" y="944.500" width="4.500" height="4.500" fill="#f2b63c"/>
<path d="M1098 921.500 H1111 M1098 924.500 H1107 M1098 929.500 H1111 M1098 932.500 H1107 M1098 937.500 H1104" stroke="#7fa8ee" stroke-width="1.200"/>
<circle cx="1110.500" cy="943.500" r="6.300" fill="#d8ecfa" stroke="#f0a83c" stroke-width="2.600"/>
<path d="M1115.500 948.500 L1122.500 957" stroke="#3d4a78" stroke-width="3.600" stroke-linecap="round"/></g>
</svg>
<div class="stitle" style="left:165px;top:817.5px">医疗数据赋能<br>保险反欺诈</div>
<!--P3-->
<svg style="left:0;top:0" width="1308" height="1666" viewBox="0 0 1308 1666">
<g fill="none" stroke="#1a1fb5" stroke-linejoin="round" stroke-linecap="round">
<path stroke-width="3.6" d="M240.300 1212.600 H276.700 L283.400 1224.500 V1259.500 a4.500 4.500 0 0 1 -4.500 4.500 H237.100 a4.500 4.500 0 0 1 -4.500 -4.500 V1224.500 Z"/>
<path stroke-width="3.6" d="M232.600 1222.500 H283.400"/>
<path stroke-width="1.300" d="M241 1213 V1253 L235 1263 M275.400 1213 V1253 L281.500 1263 M247 1245.400 H266"/>
<path stroke-width="2.500" d="M245.500 1243.800 L256.300 1236.600 M260.800 1237.300 L268.500 1243.600"/>
<circle stroke-width="2.500" cx="242.500" cy="1246.600" r="3.600"/>
<circle stroke-width="2.500" cx="258.700" cy="1234.300" r="3.100"/>
<circle stroke-width="2.500" cx="272" cy="1247.800" r="4.800"/>
</g>
</svg>
<svg style="left:0;top:0" width="1308" height="1666" viewBox="0 0 1308 1666">
<defs>
<linearGradient id="yglow" x1="0" x2="0" y1="0" y2="1"><stop offset="0" stop-color="#fff3d4" stop-opacity="0"/><stop offset=".25" stop-color="#fff4d8" stop-opacity=".3"/><stop offset=".6" stop-color="#fff4d8" stop-opacity=".5"/><stop offset="1" stop-color="#fff1cc" stop-opacity=".75"/></linearGradient>
<linearGradient id="yside" x1="0" x2="1" y1="0" y2="0"><stop offset="0" stop-color="#ffeab8" stop-opacity=".35"/><stop offset=".1" stop-color="#fff" stop-opacity="0"/><stop offset=".9" stop-color="#fff" stop-opacity="0"/><stop offset="1" stop-color="#ffeab8" stop-opacity=".35"/></linearGradient>
<linearGradient id="bglow" x1="0" x2="0" y1="0" y2="1"><stop offset="0" stop-color="#dbe6fc" stop-opacity="0"/><stop offset=".35" stop-color="#dde8fc" stop-opacity=".6"/><stop offset=".75" stop-color="#cfddfa" stop-opacity="1"/><stop offset="1" stop-color="#bfd2f7" stop-opacity="1"/></linearGradient>
<radialGradient id="bcenter" cx=".5" cy=".45" r=".5"><stop offset="0" stop-color="#fff" stop-opacity=".85"/><stop offset="1" stop-color="#fff" stop-opacity="0"/></radialGradient>
<linearGradient id="tope" x1="0" x2="0" y1="0" y2="1"><stop offset="0" stop-color="#ffffff" stop-opacity=".9"/><stop offset=".35" stop-color="#ffffff" stop-opacity=".3"/><stop offset=".7" stop-color="#d5e4fb" stop-opacity="0"/><stop offset="1" stop-color="#b9d3f8" stop-opacity=".7"/></linearGradient>
<linearGradient id="topeh" x1="0" x2="1" y1="0" y2="0"><stop offset="0" stop-color="#b3d0f7"/><stop offset=".22" stop-color="#dfebfc"/><stop offset=".5" stop-color="#fafcff"/><stop offset=".78" stop-color="#dfebfc"/><stop offset="1" stop-color="#b3d0f7"/></linearGradient>
<linearGradient id="brim" x1="0" x2="0" y1="0" y2="1"><stop offset="0" stop-color="#d5e1fa"/><stop offset=".62" stop-color="#d0ddf9"/><stop offset=".8" stop-color="#9db8f3"/><stop offset=".9" stop-color="#4272e6"/><stop offset="1" stop-color="#2a5fe0"/></linearGradient>
<linearGradient id="brimh" x1="0" x2="1" y1="0" y2="0"><stop offset="0" stop-color="#5f8cee"/><stop offset=".3" stop-color="#2f63e2"/><stop offset=".7" stop-color="#2f63e2"/><stop offset="1" stop-color="#5f8cee"/></linearGradient>
<linearGradient id="bsurf" x1="0" x2="0" y1="0" y2="1"><stop offset="0" stop-color="#fbfcff" stop-opacity=".95"/><stop offset=".6" stop-color="#f4f7fe"/><stop offset="1" stop-color="#e9eefc"/></linearGradient>
<linearGradient id="cubeL" x1="0" x2="1" y1="0" y2="0"><stop offset="0" stop-color="#fbb228"/><stop offset="1" stop-color="#fccb52"/></linearGradient>
<linearGradient id="tagbg" x1="0" x2="1" y1="0" y2="0"><stop offset="0" stop-color="#fdefc8" stop-opacity=".3"/><stop offset=".2" stop-color="#fdefc8"/><stop offset=".8" stop-color="#fdefc8"/><stop offset="1" stop-color="#fdefc8" stop-opacity=".3"/></linearGradient>
<linearGradient id="dblarr" x1="0" x2="1" y1="0" y2="0"><stop offset="0" stop-color="#2a48d8"/><stop offset=".2" stop-color="#1a1fbc"/><stop offset=".8" stop-color="#1a1fbc"/><stop offset="1" stop-color="#2a48d8"/></linearGradient>
</defs>
<!-- blue cone + platform -->
<path d="M402 1288 H1146 L1128 1456 A361 37 0 0 1 416 1453 Z" fill="url(#bglow)"/>
<ellipse cx="772" cy="1385" rx="170" ry="75" fill="url(#bcenter)"/>
<path d="M432 1462 A340 40 0 0 0 1112 1462 Z" fill="#d3dff9"/>
<path d="M432 1462 A340 40 0 0 0 1112 1462 A340 32 0 0 1 432 1462 Z" fill="url(#brimh)"/>
<path d="M410 1449 A362 13 0 0 1 1133 1452 A361 37 0 0 1 410 1449 Z" fill="url(#bsurf)"/>
<path d="M1133 1452 A361 37 0 0 1 410 1449" fill="none" stroke="#5f6ee6" stroke-width="1"/>
<path d="M410 1449 A362 13 0 0 1 1133 1452" fill="none" stroke="#c3cdf6" stroke-width=".6"/>
<!-- yellow cone -->
<path d="M400 1160 H1143 L1134 1237 A361 26 0 0 1 412.500 1235 Z" fill="url(#yglow)"/>
<path d="M412.500 1235 A361 28.500 0 0 0 1134 1237 A361 25 0 0 1 412.500 1235 Z" fill="#f9c744"/>
<path d="M412.500 1235 A361 25 0 0 0 1134 1237" fill="none" stroke="#fde7a6" stroke-width="1.200"/>
<!-- top blue ellipse -->
<path d="M462 1104 A309.500 13 0 0 1 1081 1104 A309.500 21.500 0 0 1 462 1104 Z" fill="#a5c6f6"/>
<path d="M462 1104 A309.500 13 0 0 1 1081 1104 A309.500 19.500 0 0 1 462 1104 Z" fill="url(#topeh)"/>
<path d="M462 1104 A309.500 13 0 0 1 1081 1104 A309.500 19.500 0 0 1 462 1104 Z" fill="url(#tope)"/>
<path d="M1081 1104 A309.500 19.500 0 0 1 462 1104" fill="none" stroke="#4a80ea" stroke-width="1.100"/>
<path d="M462 1104 A309.500 13 0 0 1 560 1094.200" fill="none" stroke="#dfeafb" stroke-width=".8"/>
<!-- tags -->
<g transform="translate(526.5 1204.5)">
<path d="M0.700 30.800 L20.500 33.800 L45 40.700 L29.700 42.700 L5.200 36.600 Z" fill="#efe6ea" opacity=".9"/>
<path d="M20.500 1.700 L48.800 10.100 L45 40.700 L20.500 33.800 Z" fill="#fbd9a2" opacity=".8"/>
<path d="M5.200 2.500 L20.500 1.700 L20.500 33.800 L0.700 30.800 Z" fill="url(#cubeL)"/>
<path d="M9 6 L16 5.500 L16 29 L7.500 27.500 Z" fill="#fdd260"/>
<path d="M5.200 2.500 L20.500 1.700 L48.800 10.100 L30 8 Z" fill="#fde7b8" opacity=".9"/>
</g><g transform="translate(670.5 1204.5)">
<path d="M0.700 30.800 L20.500 33.800 L45 40.700 L29.700 42.700 L5.200 36.600 Z" fill="#efe6ea" opacity=".9"/>
<path d="M20.500 1.700 L48.800 10.100 L45 40.700 L20.500 33.800 Z" fill="#fbd9a2" opacity=".8"/>
<path d="M5.200 2.500 L20.500 1.700 L20.500 33.800 L0.700 30.800 Z" fill="url(#cubeL)"/>
<path d="M9 6 L16 5.500 L16 29 L7.500 27.500 Z" fill="#fdd260"/>
<path d="M5.200 2.500 L20.500 1.700 L48.800 10.100 L30 8 Z" fill="#fde7b8" opacity=".9"/>
</g><g transform="translate(810.5 1204.5)">
<path d="M0.700 30.800 L20.500 33.800 L45 40.700 L29.700 42.700 L5.200 36.600 Z" fill="#efe6ea" opacity=".9"/>
<path d="M20.500 1.700 L48.800 10.100 L45 40.700 L20.500 33.800 Z" fill="#fbd9a2" opacity=".8"/>
<path d="M5.200 2.500 L20.500 1.700 L20.500 33.800 L0.700 30.800 Z" fill="url(#cubeL)"/>
<path d="M9 6 L16 5.500 L16 29 L7.500 27.500 Z" fill="#fdd260"/>
<path d="M5.200 2.500 L20.500 1.700 L48.800 10.100 L30 8 Z" fill="#fde7b8" opacity=".9"/>
</g><g transform="translate(902.6 1204.5)">
<path d="M0.700 30.800 L20.500 33.800 L45 40.700 L29.700 42.700 L5.200 36.600 Z" fill="#efe6ea" opacity=".9"/>
<path d="M20.500 1.700 L48.800 10.100 L45 40.700 L20.500 33.800 Z" fill="#fbd9a2" opacity=".8"/>
<path d="M5.200 2.500 L20.500 1.700 L20.500 33.800 L0.700 30.800 Z" fill="url(#cubeL)"/>
<path d="M9 6 L16 5.500 L16 29 L7.500 27.500 Z" fill="#fdd260"/>
<path d="M5.200 2.500 L20.500 1.700 L48.800 10.100 L30 8 Z" fill="#fde7b8" opacity=".9"/>
</g>
<!-- server icon -->
<g>
<ellipse cx="771.500" cy="1410" rx="50" ry="6.500" fill="#c9cfdd"/>
<path d="M729 1400 h86 v9 a43 5.500 0 0 1 -86 0 Z" fill="#dadfe9"/>
<ellipse cx="772" cy="1400" rx="43" ry="5.500" fill="#eef0f5"/>
<ellipse cx="772" cy="1405" rx="24" ry="4" fill="#b9c1d4"/>
<rect x="744.4" y="1349.0" width="55.7" height="42.2" fill="#e4eaf8"/><rect x="745.3" y="1349.9" width="5.3" height="20.2" fill="#d3dbee"/><rect x="751.1" y="1349.9" width="12.7" height="10.2" fill="#a9bff0"/><rect x="764.1" y="1349.9" width="5.8" height="10.2" fill="#7fa0ec"/><rect x="770.4" y="1349.9" width="7.0" height="10.2" fill="#5f86e8"/><rect x="777.8" y="1349.9" width="7.0" height="20.2" fill="#8fb0f0"/><rect x="785.2" y="1349.9" width="8.4" height="10.2" fill="#6f94ec"/><rect x="794.2" y="1349.9" width="5.6" height="10.2" fill="#4a72e0"/><rect x="751.1" y="1360.8" width="18.8" height="9.3" fill="#8ea9ee"/><rect x="770.4" y="1360.8" width="7.0" height="9.3" fill="#5f86e8"/><rect x="785.2" y="1360.8" width="8.4" height="9.3" fill="#86a6ee"/><rect x="794.2" y="1360.8" width="5.6" height="19.9" fill="#5a80e4"/><rect x="745.3" y="1370.8" width="8.8" height="19.2" fill="#7f9eec"/><rect x="754.6" y="1370.8" width="8.8" height="19.5" fill="#6a8ee8"/><rect x="763.9" y="1371.9" width="6.0" height="19.3" fill="#bcc5dc"/><rect x="770.4" y="1371.9" width="14.4" height="19.3" fill="#d5dbea"/><rect x="785.4" y="1370.8" width="8.3" height="19.5" fill="#5a80e6"/><rect x="794.2" y="1381.2" width="5.6" height="8.3" fill="#4a72e0"/>
<rect x="758.500" y="1333" width="7" height="7" fill="#5b93ee" transform="rotate(30 762 1336.500)"/>
<rect x="733.500" y="1371" width="8" height="8" fill="#6a90d8" transform="rotate(-15 737.500 1375)"/>
<rect x="792" y="1387" width="6.500" height="6.500" fill="#6f98e4" transform="rotate(25 795 1390)"/>
</g>
<!-- double arrow -->
<polygon points="667,1425.700 693.800,1403.500 693.800,1414 850.400,1414 850.400,1403.500 877.200,1425.700 850.400,1448 850.400,1437 693.800,1437 693.800,1448" fill="url(#dblarr)"/>
<!-- dotted outer boxes -->
<g fill="none" stroke="#3a40c8" stroke-width="1" stroke-dasharray="1.800 1.600">
<rect x="459.600" y="1292.500" width="201.300" height="177"/>
<rect x="883.400" y="1292.600" width="201.500" height="85.800"/>
<rect x="883.400" y="1383.100" width="201.500" height="86.500"/>
</g>
</svg>

<div class="t b" style="left:704px;top:1089.500px;font-size:19.600px;color:#2f6fe0">大模型业务平台</div>
<div class="t b" style="left:713px;top:1142.500px;font-size:19.600px;color:#f0922a">大模型软件栈</div>
<div class="tag" style="left:456.200px">性能优化能力</div>
<div class="tag" style="left:616.700px">效果优化能力</div>
<div class="tag" style="left:777px">跨平台运行能力</div>
<div class="tag" style="left:937.300px">微调&amp;管理模块</div>
<svg style="left:0;top:0" width="1308" height="1666" viewBox="0 0 1308 1666">
<path d="M466.2 1169 H456.7 V1178 M456.7 1186 V1195.300 H466.2 M597.2 1169 H606.7 V1178 M606.7 1186 V1195.300 H597.2" fill="none" stroke="#f5bd55" stroke-width="1.100"/>
<path d="M457.9 1178 V1186 M605.5 1178 V1186" fill="none" stroke="#f8d48c" stroke-width="1"/>
<path d="M626.7 1169 H617.2 V1178 M617.2 1186 V1195.300 H626.7 M757.7 1169 H767.2 V1178 M767.2 1186 V1195.300 H757.7" fill="none" stroke="#f5bd55" stroke-width="1.100"/>
<path d="M618.4 1178 V1186 M766.0 1178 V1186" fill="none" stroke="#f8d48c" stroke-width="1"/>
<path d="M787.0 1169 H777.5 V1178 M777.5 1186 V1195.300 H787.0 M918.0 1169 H927.5 V1178 M927.5 1186 V1195.300 H918.0" fill="none" stroke="#f5bd55" stroke-width="1.100"/>
<path d="M778.7 1178 V1186 M926.3 1178 V1186" fill="none" stroke="#f8d48c" stroke-width="1"/>
<path d="M947.3 1169 H937.8 V1178 M937.8 1186 V1195.300 H947.3 M1078.3 1169 H1087.8 V1178 M1087.8 1186 V1195.300 H1078.3" fill="none" stroke="#f5bd55" stroke-width="1.100"/>
<path d="M939.0 1178 V1186 M1086.6 1178 V1186" fill="none" stroke="#f8d48c" stroke-width="1"/>
</svg>
<div class="t b fw" style="left:553.500px;top:1219px">Transformer</div>
<div class="t b fw" style="left:697.500px;top:1219px">CNN<span style="font-weight:400">（</span>Yolo<span style="font-weight:400">）</span></div>
<div class="t b fw" style="left:838.500px;top:1219px">Torch</div>
<div class="t b fw" style="left:929px;top:1219px">TensorFlow</div>
<div class="t b" style="left:713px;top:1288.500px;font-size:19.600px;color:#1a22b8">大模型硬件栈</div>
<div class="ibox" style="left:464.500px;top:1297.600px;width:191.200px;height:166.400px"></div>
<div class="t b" style="left:464.500px;width:191.200px;text-align:center;top:1307.200px;font-size:16px">TEE服务器</div>
<div class="cell c1" style="left:479.300px;top:1329px;width:78.500px;height:22.300px">计算环境</div>
<div class="cell c2" style="left:561.800px;top:1329px;width:78.800px;height:22.300px">计算环境</div>
<div class="cell c2" style="left:479.300px;top:1355.100px;width:161.300px;height:20.900px">驱动</div>
<div class="cell c2" style="left:479.300px;top:1379.800px;width:161.300px;height:20.900px">OS</div>
<div class="cell c1" style="left:479.300px;top:1404.200px;width:161.300px;height:20.700px">固件</div>
<div class="cell c1" style="left:479.300px;top:1428.300px;width:161.300px;height:21px">BIOS</div>
<div class="ibox" style="left:888.600px;top:1297.800px;width:191.600px;height:75.700px"></div>
<div class="t b" style="left:888.600px;width:191.600px;text-align:center;top:1306.800px;font-size:15.400px">AI加速卡</div>
<div class="cell c1" style="left:904.200px;top:1325.900px;width:73.600px;height:17.700px">计算环境</div>
<div class="cell c2" style="left:990.500px;top:1325.900px;width:74.300px;height:17.700px">计算环境</div>
<div class="cell c1" style="left:904.200px;top:1347.200px;width:160.600px;height:17.200px">固件</div>
<div class="ibox" style="left:888.600px;top:1388.300px;width:191.600px;height:76.100px"></div>
<div class="t b" style="left:888.600px;width:191.600px;text-align:center;top:1397.900px;font-size:15.400px">AI加速卡</div>
<div class="cell c1" style="left:904.200px;top:1416.900px;width:73.600px;height:17.600px">计算环境</div>
<div class="cell c2" style="left:990.500px;top:1416.900px;width:74.300px;height:17.600px">计算环境</div>
<div class="cell c1" style="left:904.200px;top:1438.200px;width:160.600px;height:16.900px">固件</div>
<div class="t b" style="left:754px;top:1418.500px;font-size:16.500px;color:#fff;letter-spacing:3.5px">主板</div>
<div class="stitle" style="left:165px;top:1290px">基于隐私保护的<br>大模型训练</div>
</body>
</html>
